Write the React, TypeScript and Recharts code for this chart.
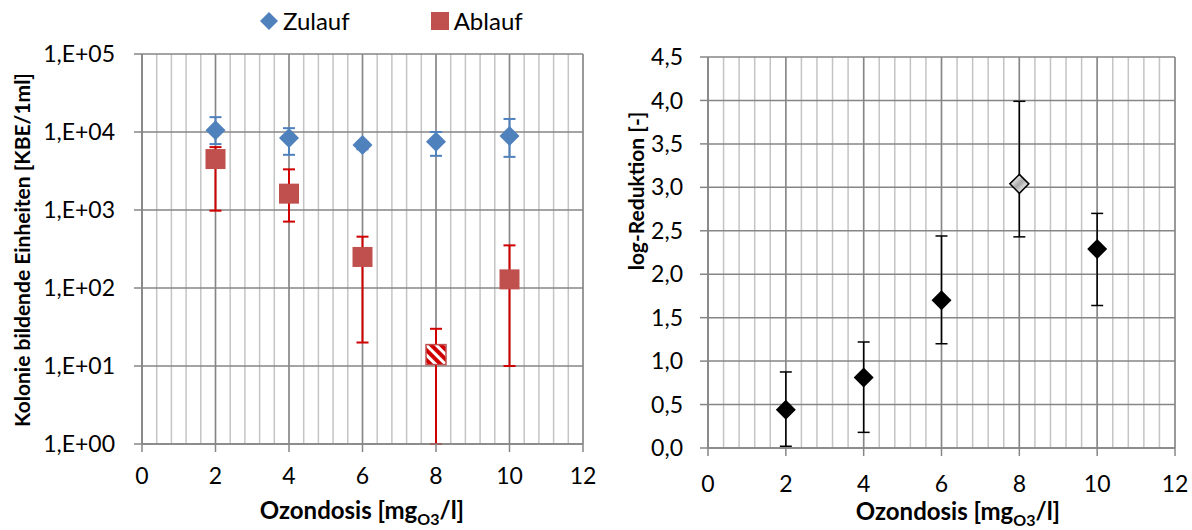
import React from "react";
import { ScatterChart, Scatter, XAxis, YAxis, CartesianGrid, ErrorBar, Label } from "recharts";

// Ozondosis in mg O3/l
const doses = [2, 4, 6, 8, 10];

// KBE/1ml, influent (Zulauf)
const zulauf = [10500, 8400, 6800, 7500, 8900];
const zulaufLow = [7000, 5100, 6000, 4950, 4800];
const zulaufHigh = [15500, 11200, 7500, 10000, 14700];

// KBE/1ml, effluent (Ablauf)
const ablauf = [4500, 1620, 250, 14, 129];
const ablaufLow = [980, 710, 20, 1, 10];
const ablaufHigh = [6400, 3320, 455, 30, 352];

// log reduction
const reduction = [0.44, 0.81, 1.7, 3.04, 2.29];
const reductionLow = [0.02, 0.18, 1.2, 2.43, 1.64];
const reductionHigh = [0.875, 1.22, 2.44, 3.99, 2.7];

// dose whose values lie near the detection limit (drawn with a pattern fill)
const flaggedDose = 8;

const xTicks = [0, 2, 4, 6, 8, 10, 12];
const logTicks = [1, 10, 100, 1000, 10000, 100000];
const reductionTicks = [0, 0.5, 1, 1.5, 2, 2.5, 3, 3.5, 4, 4.5];
const X_MAX = 12;
const minorX = Array.from({ length: 31 }, (_, i) => Number((i * 0.4).toFixed(1)));

const FONT = "Lato, 'Open Sans', sans-serif";
const BLUE = "#4F81BD";
const RED = "#C0504D";
const RED_BAR = "#D00000";
const AXIS = "#868686";

const rows = (vals: number[], low: number[], high: number[]) =>
  doses.map((x, i) => ({ x, y: vals[i], err: [vals[i] - low[i], high[i] - vals[i]] }));

const zulaufData = rows(zulauf, zulaufLow, zulaufHigh);
const ablaufData = rows(ablauf, ablaufLow, ablaufHigh);
const reductionData = rows(reduction, reductionLow, reductionHigh);

// minor vertical grid every 0.4 units, placed over the plot area
const minorGrid = ({ offset, width }: any) => {
  const left = offset.left;
  const w = offset.width ?? width - offset.left - offset.right;
  return minorX.map((v) => left + (v / X_MAX) * w);
};

const diamondPath = (cx: number, cy: number, r: number) =>
  `M${cx},${cy - r}L${cx + r},${cy}L${cx},${cy + r}L${cx - r},${cy}Z`;

const BlueDiamond = (p: any) => <path d={diamondPath(p.cx, p.cy, 10)} fill={BLUE} />;

const RedSquare = (p: any) => {
  const hatched = p.payload?.x === flaggedDose;
  return (
    <rect
      x={p.cx - 10}
      y={p.cy - 10}
      width={20}
      height={20}
      fill={hatched ? "url(#hatchRed)" : RED}
      stroke={hatched ? RED : "none"}
      strokeWidth={1.5}
    />
  );
};

const BlackDiamond = (p: any) => {
  const open = p.payload?.x === flaggedDose;
  return (
    <path
      d={diamondPath(p.cx, p.cy, open ? 9.5 : 10)}
      fill={open ? "url(#greyShade)" : "#000"}
      stroke="#000"
      strokeWidth={open ? 1.5 : 0}
    />
  );
};

const tickStyle = { fontSize: 23, fill: "#000", fontFamily: FONT };
const logLabel = (v: number) => `1,E+${String(Math.round(Math.log10(v))).padStart(2, "0")}`;
const commaLabel = (v: number) => v.toFixed(1).replace(".", ",");

const DoseTitle = ({ cx, y }: { cx: number; y: number }) => (
  <text x={cx} y={y} textAnchor="middle" fontFamily={FONT} fontWeight="bold" fontSize={24} fill="#000">
    Ozondosis [mg
    <tspan fontSize={16} dy={6}>O3</tspan>
    <tspan dy={-6}>/l]</tspan>
  </text>
);

const VerticalTitle = ({ cx, cy, text }: { cx: number; cy: number; text: string }) => (
  <text
    transform={`translate(${cx},${cy}) rotate(-90)`}
    textAnchor="middle"
    dy="0.35em"
    fontFamily={FONT}
    fontWeight="bold"
    fontSize={21}
    fill="#000"
  >
    {text}
  </text>
);

const Legend = () => (
  <div style={{ position: "absolute", left: 258, top: 6, display: "flex", alignItems: "center", fontFamily: FONT, fontSize: 24 }}>
    <svg width={22} height={22}>
      <path d={diamondPath(11, 11, 9)} fill={BLUE} />
    </svg>
    <span style={{ marginLeft: 3 }}>Zulauf</span>
    <svg width={20} height={20} style={{ marginLeft: 80 }}>
      <rect x={1} y={1} width={18} height={18} fill={RED} />
    </svg>
    <span style={{ marginLeft: 4 }}>Ablauf</span>
  </div>
);

export default function App() {
  return (
    <div style={{ position: "absolute", left: 0, top: 0, width: 1192, height: 530, background: "#fff" }}>
      <Legend />
      <div style={{ position: "absolute", left: 0, top: 0 }}>
        <ScatterChart width={600} height={530} margin={{ top: 54, right: 17, left: 42, bottom: 0 }}>
          <defs>
            <pattern id="hatchRed" width={7} height={7} patternUnits="userSpaceOnUse" patternTransform="rotate(-45)">
              <rect width={7} height={7} fill={RED_BAR} />
              <rect width={3} height={7} fill="#fff" />
            </pattern>
          </defs>
          <CartesianGrid horizontal={false} verticalCoordinatesGenerator={minorGrid} stroke="#C4C4C4" strokeWidth={1.5} />
          <CartesianGrid stroke={AXIS} strokeWidth={1.5} />
          <XAxis
            type="number"
            dataKey="x"
            domain={[0, X_MAX]}
            ticks={xTicks}
            stroke={AXIS}
            strokeWidth={1.5}
            tickSize={8}
            tickMargin={16}
            tick={tickStyle}
            height={86}
          >
            <Label content={() => <DoseTitle cx={362} y={519} />} />
          </XAxis>
          <YAxis
            type="number"
            dataKey="y"
            scale="log"
            domain={[1, 100000]}
            ticks={logTicks}
            allowDataOverflow
            width={100}
            stroke={AXIS}
            strokeWidth={1.5}
            tickSize={8}
            tickMargin={19}
            tick={tickStyle}
            tickFormatter={logLabel}
          >
            <Label content={() => <VerticalTitle cx={23} cy={250} text="Kolonie bildende Einheiten [KBE/1ml]" />} />
          </YAxis>
          <Scatter data={zulaufData} shape={BlueDiamond} isAnimationActive={false}>
            <ErrorBar dataKey="err" direction="y" width={6} stroke={BLUE} strokeWidth={2} />
          </Scatter>
          <Scatter data={ablaufData} shape={RedSquare} isAnimationActive={false}>
            <ErrorBar dataKey="err" direction="y" width={6} stroke={RED_BAR} strokeWidth={2} />
          </Scatter>
        </ScatterChart>
      </div>
      <div style={{ position: "absolute", left: 600, top: 0 }}>
        <ScatterChart width={592} height={530} margin={{ top: 57, right: 17, left: 48, bottom: 0 }}>
          <defs>
            <linearGradient id="greyShade" x1="0" y1="0" x2="1" y2="1">
              <stop offset="15%" stopColor="#fff" />
              <stop offset="50%" stopColor="#a8a8a8" />
              <stop offset="85%" stopColor="#fff" />
            </linearGradient>
          </defs>
          <CartesianGrid horizontal={false} verticalCoordinatesGenerator={minorGrid} stroke="#C4C4C4" strokeWidth={1.5} />
          <CartesianGrid stroke={AXIS} strokeWidth={1.5} />
          <XAxis
            type="number"
            dataKey="x"
            domain={[0, X_MAX]}
            ticks={xTicks}
            stroke={AXIS}
            strokeWidth={1.5}
            tickSize={8}
            tickMargin={20}
            tick={tickStyle}
            height={82}
          >
            <Label content={() => <DoseTitle cx={358} y={520} />} />
          </XAxis>
          <YAxis
            type="number"
            dataKey="y"
            domain={[0, 4.5]}
            ticks={reductionTicks}
            allowDataOverflow
            width={60}
            stroke={AXIS}
            strokeWidth={1.5}
            tickSize={8}
            tickMargin={17}
            tick={tickStyle}
            tickFormatter={commaLabel}
          >
            <Label content={() => <VerticalTitle cx={37} cy={191} text="log-Reduktion [-]" />} />
          </YAxis>
          <Scatter data={reductionData} shape={BlackDiamond} isAnimationActive={false}>
            <ErrorBar dataKey="err" direction="y" width={6} stroke="#000" strokeWidth={1.5} />
          </Scatter>
        </ScatterChart>
      </div>
    </div>
  );
}
